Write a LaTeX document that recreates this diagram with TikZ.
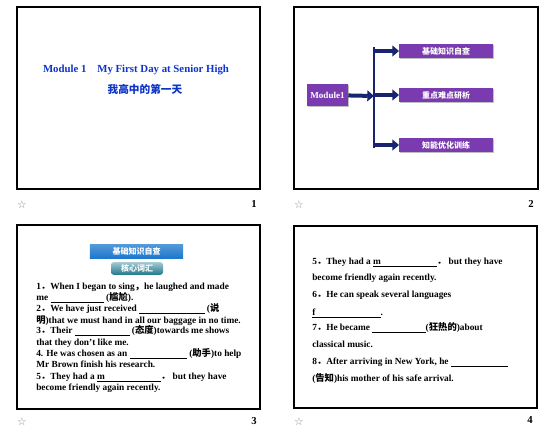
\documentclass[tikz,border=0pt]{standalone}
\usepackage{fontspec}
\setmainfont{Liberation Serif}
\newfontfamily\cjk{Noto Sans CJK SC}
\newfontfamily\symfont{DejaVu Sans}
\usetikzlibrary{arrows.meta,shadows}
\definecolor{titleblue}{RGB}{12,52,200}
\definecolor{boxpurple}{RGB}{122,58,176}
\definecolor{arrownavy}{RGB}{24,36,112}
\definecolor{bannerblue}{RGB}{30,120,205}
\definecolor{buttonteal}{RGB}{30,120,140}
\newcommand{\zh}[1]{{\cjk #1}}
\newcommand{\blank}[1]{\underline{\hspace{#1}}}
\tikzstyle{slide}=[draw, line width=0.8pt]
\tikzstyle{star}=[text=gray!90, font=\symfont\fontsize{8}{9}\selectfont, inner sep=0pt]
\tikzstyle{pagenum}=[font=\bfseries\fontsize{8}{9}\selectfont, inner sep=0pt]
\tikzstyle{topic}=[fill=boxpurple, text=white, minimum width=70pt, minimum height=10.5pt, inner sep=0pt, font=\cjk\bfseries\fontsize{6}{7}\selectfont, drop shadow={shadow xshift=0.8pt, shadow yshift=-0.8pt, fill=gray!50, opacity=1}]
\tikzstyle{branch}=[draw=arrownavy, line width=3pt, -{Triangle[length=5pt,width=8pt]}]
\tikzstyle{textline}=[anchor=base west, inner sep=0pt, font=\bfseries\fontsize{7}{8}\selectfont]

\begin{document}
\begin{tikzpicture}[x=0.75pt, y=-0.75pt]
    \useasboundingbox (0, 0) rectangle (551, 432);
    % slide 1
    \begin{scope}
        \draw[slide] (17, 7) rectangle (260, 189);
        \node (title) at (136, 70)[text=titleblue, font=\bfseries\fontsize{8.1}{10}\selectfont] {Module 1\zh{　}My First Day at Senior High};
        \node (subtitle) at (145, 89)[text=titleblue, font=\cjk\bfseries\fontsize{8}{9}\selectfont] {我高中的第一天};
        \node (star1) at (22, 205)[star] {☆};
        \node (num1) at (254, 204)[pagenum] {1};
    \end{scope}
    % slide 2
    \begin{scope}
        \draw[slide] (294, 7) rectangle (538, 189);
        \node (m1) at (327.5, 95)[topic, minimum width=30.75pt, minimum height=16.5pt, font=\bfseries\fontsize{6.8}{7}\selectfont] {Module1};
        \node (t1) at (446, 51)[topic] {基础知识自查};
        \node (t2) at (446, 95)[topic] {重点难点研析};
        \node (t3) at (446, 145)[topic] {知能优化训练};
        \coordinate (fork) at (374, 96);
        \coordinate (bartop) at (374, 47);
        \coordinate (barbot) at (374, 148);
        \path [branch] (m1) -- (fork);
        \path [draw=arrownavy, line width=2.2pt] (bartop) -- (barbot);
        \path [branch] (374, 51) -- (t1.west);
        \path [branch] (374, 95) -- (t2.west);
        \path [branch] (374, 145) -- (t3.west);
        \node (star2) at (299, 205)[star] {☆};
        \node (num2) at (531, 204)[pagenum] {2};
    \end{scope}
    % slide 3
    \begin{scope}
        \draw[slide] (17, 225) rectangle (260, 409);
        \node (banner) at (136.5, 251)[top color=bannerblue!75, bottom color=bannerblue, text=white, minimum width=70pt, minimum height=10.5pt, inner sep=0pt, font=\cjk\bfseries\fontsize{6}{7}\selectfont] {基础知识自查};
        \node (vocab) at (137, 268.5)[rounded corners=2pt, top color=buttonteal!40, bottom color=buttonteal, text=white, minimum width=39pt, minimum height=9.5pt, inner sep=0pt, font=\cjk\bfseries\fontsize{6}{7}\selectfont] {核心词汇};
        \node (a1) at (36, 289)[textline] {1\zh{．}When I began to sing\zh{，}he laughed and made};
        \node (a2) at (36, 300)[textline] {me \blank{40pt} (\zh{尴尬}).};
        \node (a3) at (36, 311)[textline] {2\zh{．}We have just received \blank{49pt} (\zh{说}};
        \node (a4) at (36, 323)[textline] {\zh{明})that we must hand in all our baggage in no time.};
        \node (a5) at (36, 333)[textline] {3\zh{．}Their \blank{41pt} (\zh{态度})towards me shows};
        \node (a6) at (36, 345)[textline] {that they don't like me.};
        \node (a7) at (36, 356)[textline] {4. He was chosen as an \blank{43pt} (\zh{助手})to help};
        \node (a8) at (36, 367)[textline] {Mr Brown finish his research.};
        \node (a9) at (36, 379)[textline] {5\zh{．}They had a \underline{m\hspace{42pt}}\zh{．} but they have};
        \node (a10) at (36, 390)[textline] {become friendly again recently.};
        \node (star3) at (22, 422)[star] {☆};
        \node (num3) at (254, 421)[pagenum] {3};
    \end{scope}
    % slide 4
    \begin{scope}
        \draw[slide] (294, 226) rectangle (537, 408);
        \node (b1) at (312, 264)[textline] {5\zh{．}They had a \underline{m\hspace{42pt}}\zh{．} but they have};
        \node (b2) at (312, 280)[textline] {become friendly again recently.};
        \node (b3) at (312, 297)[textline] {6\zh{．}He can speak several languages};
        \node (b4) at (312, 315)[textline] {\underline{f\hspace{49pt}}.};
        \node (b5) at (312, 330)[textline] {7\zh{．}He became \blank{40pt}(\zh{狂热的})about};
        \node (b6) at (312, 347)[textline] {classical music.};
        \node (b7) at (312, 364)[textline] {8\zh{．}After arriving in New York, he \blank{43pt}};
        \node (b8) at (312, 381)[textline] {(\zh{告知})his mother of his safe arrival.};
        \node (star4) at (299, 422)[star] {☆};
        \node (num4) at (530, 420)[pagenum] {4};
    \end{scope}
\end{tikzpicture}
\end{document}
